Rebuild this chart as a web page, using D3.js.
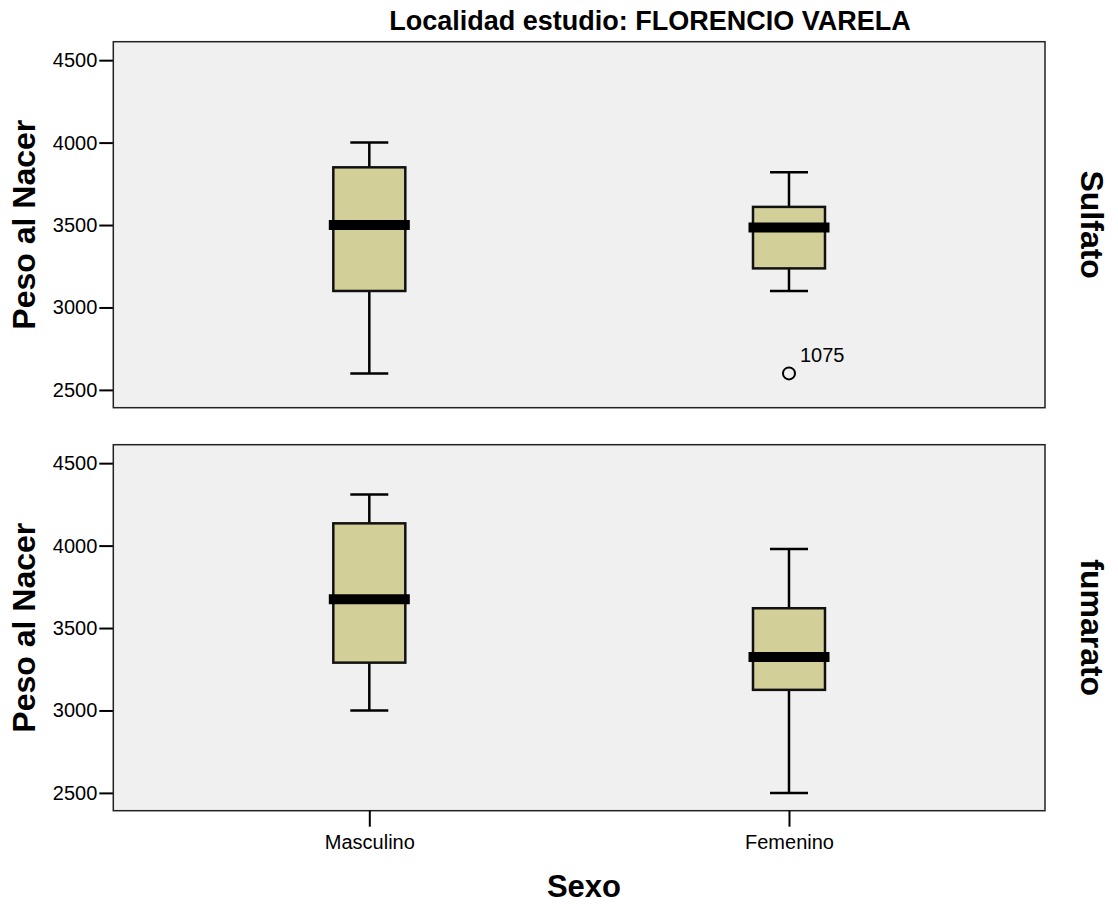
<!DOCTYPE html>
<html>
<head>
<meta charset="utf-8">
<script src="https://cdn.jsdelivr.net/npm/d3@7"></script>
<style>
  html, body { margin: 0; padding: 0; background: #ffffff; }
  svg { display: block; font-family: "Liberation Sans", Arial, sans-serif; }
</style>
</head>
<body>
<svg id="chart" width="1118" height="904"></svg>
<script>
// Birth weight by sex, one panel per treatment group
const title = "Localidad estudio: FLORENCIO VARELA";
const panels = ["Sulfato", "fumarato"];
const categories = ["Masculino", "Femenino"];
// rows follow `panels`, columns follow `categories`
const whiskerMin = [[2600, 3100], [3000, 2500]];
const quartile1  = [[3100, 3237], [3290, 3125]];
const medians    = [[3500, 3485], [3675, 3325]];
const quartile3  = [[3850, 3610], [4135, 3620]];
const whiskerMax = [[4000, 3820], [4310, 3980]];
const outliers = [{ panel: 0, category: "Femenino", value: 2600, id: "1075" }];
const yTicks = [2500, 3000, 3500, 4000, 4500];
const yLabel = "Peso al Nacer";
const xLabel = "Sexo";

const svg = d3.select("#chart");

const left = 113.3, right = 1045;
const panelTops = [41.7, 444.7];
const panelH = 366;

const x = d3.scalePoint().domain(categories).range([left, right]).padding(0.61);

const boxW = 72, medW = 81, capW = 38;

svg.append("text")
  .attr("x", 650).attr("y", 30)
  .attr("text-anchor", "middle")
  .style("font-size", "27px").style("font-weight", "bold")
  .text(title);

panels.forEach((name, p) => {
  const top = panelTops[p];
  const y = d3.scaleLinear().domain([2392, 4612]).range([top + panelH, top]);
  const g = svg.append("g");

  g.append("rect")
    .attr("x", left).attr("y", top)
    .attr("width", right - left).attr("height", panelH)
    .attr("fill", "#f0f0f0");

  // y axis
  const ya = g.append("g")
    .attr("transform", `translate(${left},0)`)
    .call(d3.axisLeft(y).tickValues(yTicks).tickSize(14).tickPadding(2).tickFormat(d3.format("d")));
  ya.select(".domain").remove();
  ya.selectAll(".tick line").attr("stroke", "#000").attr("stroke-width", 2);
  ya.selectAll(".tick text").style("font-size", "20px").attr("fill", "#000").style("font-family", "'Liberation Sans', Arial, sans-serif");

  // boxes
  categories.forEach((c, i) => {
    const cx = x(c);
    const bg = g.append("g");
    bg.append("line")
      .attr("x1", cx).attr("x2", cx)
      .attr("y1", y(whiskerMax[p][i])).attr("y2", y(quartile3[p][i]))
      .attr("stroke", "#000").attr("stroke-width", 2.5);
    bg.append("line")
      .attr("x1", cx).attr("x2", cx)
      .attr("y1", y(quartile1[p][i])).attr("y2", y(whiskerMin[p][i]))
      .attr("stroke", "#000").attr("stroke-width", 2.5);
    [whiskerMax[p][i], whiskerMin[p][i]].forEach(v => {
      bg.append("line")
        .attr("x1", cx - capW / 2).attr("x2", cx + capW / 2)
        .attr("y1", y(v)).attr("y2", y(v))
        .attr("stroke", "#000").attr("stroke-width", 2.5);
    });
    bg.append("rect")
      .attr("x", cx - boxW / 2).attr("y", y(quartile3[p][i]))
      .attr("width", boxW).attr("height", y(quartile1[p][i]) - y(quartile3[p][i]))
      .attr("fill", "#d3cf98").attr("stroke", "#111").attr("stroke-width", 2.5);
    bg.append("line")
      .attr("x1", cx - medW / 2).attr("x2", cx + medW / 2)
      .attr("y1", y(medians[p][i])).attr("y2", y(medians[p][i]))
      .attr("stroke", "#000").attr("stroke-width", 10);
  });

  outliers.filter(o => o.panel === p).forEach(o => {
    g.append("circle")
      .attr("cx", x(o.category)).attr("cy", y(o.value)).attr("r", 6)
      .attr("fill", "none").attr("stroke", "#000").attr("stroke-width", 2);
    g.append("text")
      .attr("x", x(o.category) + 11).attr("y", y(o.value) - 11)
      .style("font-size", "20px").attr("fill", "#000")
      .text(o.id);
  });

  g.append("rect")
    .attr("x", left).attr("y", top)
    .attr("width", right - left).attr("height", panelH)
    .attr("fill", "none").attr("stroke", "#222").attr("stroke-width", 1.5);

  // y title
  g.append("text")
    .attr("transform", `translate(35,${top + panelH / 2}) rotate(-90)`)
    .attr("text-anchor", "middle")
    .style("font-size", "32px").style("font-weight", "bold")
    .text(yLabel);

  // panel strip label
  g.append("text")
    .attr("transform", `translate(1081,${top + panelH / 2}) rotate(90)`)
    .attr("text-anchor", "middle")
    .style("font-size", "32px").style("font-weight", "bold")
    .text(name);

  if (p === panels.length - 1) {
    const xa = g.append("g")
      .attr("transform", `translate(0,${top + panelH})`)
      .call(d3.axisBottom(x).tickSize(16).tickPadding(8));
    xa.select(".domain").remove();
    xa.selectAll(".tick line").attr("stroke", "#000").attr("stroke-width", 2);
    xa.selectAll(".tick text").style("font-size", "20px").attr("fill", "#000").style("font-family", "'Liberation Sans', Arial, sans-serif");
  }
});

svg.append("text")
  .attr("x", 584).attr("y", 897)
  .attr("text-anchor", "middle")
  .style("font-size", "31px").style("font-weight", "bold")
  .text(xLabel);
</script>
</body>
</html>
